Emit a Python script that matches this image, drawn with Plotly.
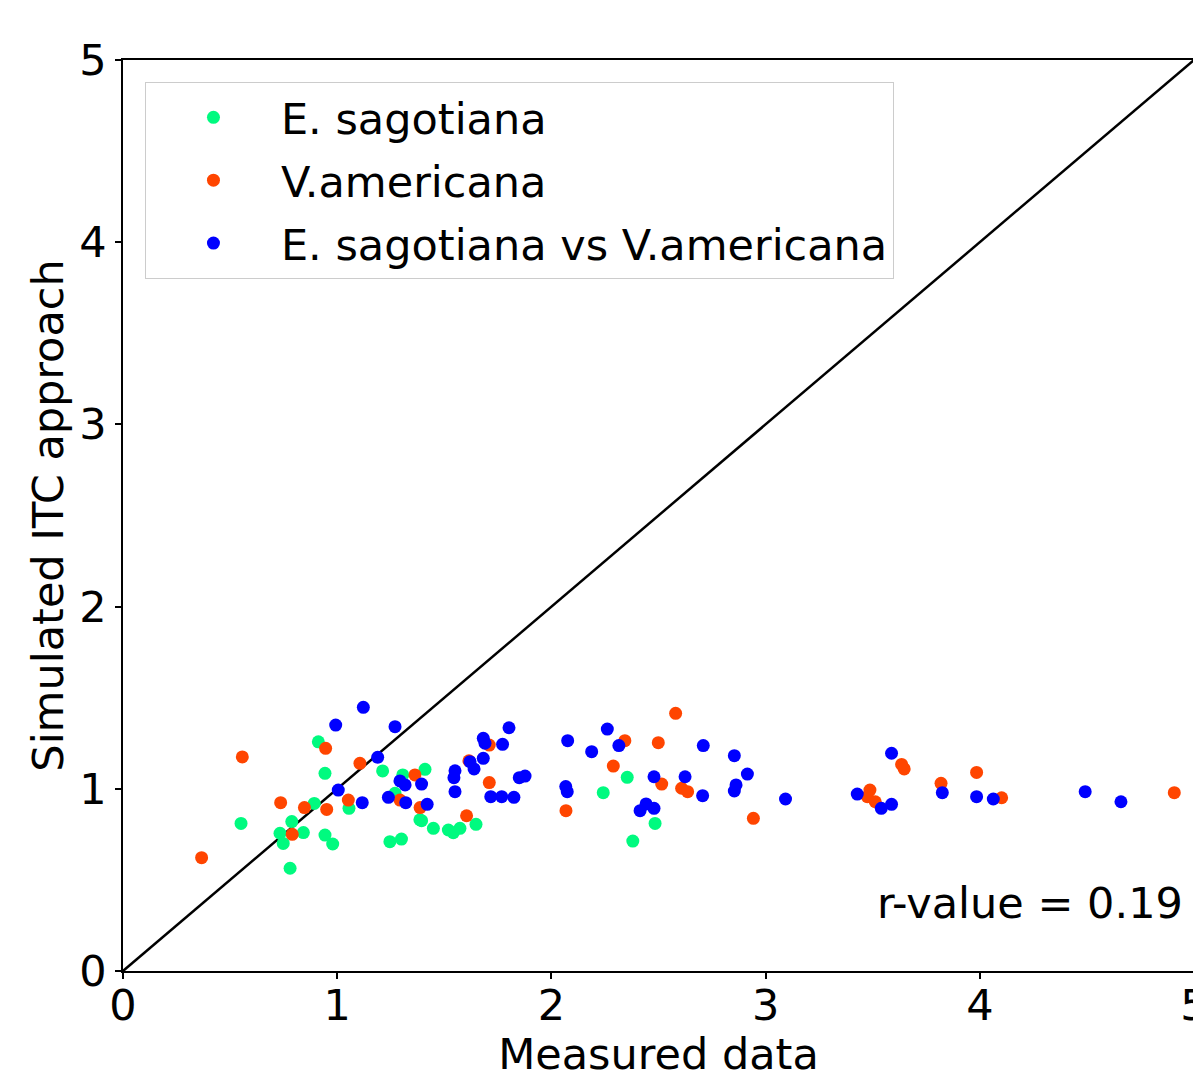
import plotly.graph_objects as go

# E. sagotiana
sag_x = [0.912, 0.943, 0.551, 0.788, 0.893, 0.733, 0.842, 0.748, 0.780, 0.943, 0.979,
         1.055, 1.212, 1.306, 1.270, 1.246, 1.300, 1.386, 1.410, 1.394, 1.449, 1.519,
         1.542, 1.573, 1.648, 2.354, 2.242, 2.380, 2.484]
sag_y = [1.258, 1.085, 0.810, 0.820, 0.920, 0.756, 0.760, 0.700, 0.564, 0.746, 0.697,
         0.893, 1.098, 1.076, 0.975, 0.710, 0.724, 0.830, 1.107, 0.825, 0.783, 0.774,
         0.759, 0.783, 0.805, 1.063, 0.979, 0.713, 0.810]

# V.americana
ame_x = [0.557, 0.367, 0.946, 1.106, 0.736, 0.847, 0.951, 1.052, 0.790, 1.363, 1.293,
         1.387, 1.615, 1.710, 1.710, 1.604, 2.068, 2.289, 2.343, 2.499, 2.580, 2.515,
         2.608, 2.636, 2.943, 3.487, 3.475, 3.512, 3.635, 3.647, 3.819, 3.985, 4.102,
         4.908]
ame_y = [1.175, 0.622, 1.222, 1.140, 0.924, 0.897, 0.887, 0.938, 0.750, 1.076, 0.938,
         0.897, 1.154, 1.240, 1.034, 0.852, 0.880, 1.125, 1.264, 1.253, 1.414, 1.026,
         1.003, 0.984, 0.838, 0.993, 0.957, 0.929, 1.134, 1.109, 1.030, 1.090, 0.951,
         0.979]

# E. sagotiana vs V.americana
vs_x = [1.122, 0.993, 1.270, 1.189, 1.005, 1.117, 1.239, 1.293, 1.317, 1.320, 1.394,
        1.420, 1.550, 1.545, 1.550, 1.620, 1.639, 1.682, 1.690, 1.682, 1.772, 1.802,
        1.717, 1.768, 1.825, 1.850, 1.877, 2.076, 2.067, 2.074, 2.188, 2.261, 2.315,
        2.479, 2.414, 2.442, 2.479, 2.624, 2.709, 2.706, 2.854, 2.915, 2.862, 2.854,
        3.093, 3.428, 3.588, 3.540, 3.588, 3.825, 3.985, 4.063, 4.492, 4.659]
vs_y = [1.447, 1.350, 1.341, 1.173, 0.993, 0.924, 0.953, 1.043, 1.021, 0.924, 1.026,
        0.915, 1.099, 1.061, 0.984, 1.149, 1.109, 1.277, 1.250, 1.167, 1.244, 1.335,
        0.957, 0.957, 0.953, 1.061, 1.070, 1.264, 1.012, 0.984, 1.204, 1.328, 1.237,
        1.066, 0.880, 0.917, 0.893, 1.066, 1.237, 0.962, 1.182, 1.081, 1.021, 0.988,
        0.944, 0.971, 1.195, 0.893, 0.915, 0.979, 0.957, 0.944, 0.984, 0.929]

one_to_one = [0, 5]
tick_vals = [0, 1, 2, 3, 4, 5]
tick_text = ["0", "1", "2", "3", "4", "5"]
r_value = 0.19

FONT = "DejaVu Sans"
FS = 43

fig = go.Figure()
fig.add_trace(go.Scatter(x=one_to_one, y=one_to_one, mode="lines",
                         line=dict(color="black", width=2.5), showlegend=False,
                         hoverinfo="skip"))
fig.add_trace(go.Scatter(x=sag_x, y=sag_y, mode="markers", name="E. sagotiana",
                         legendgroup="a", marker=dict(color="#00fa7f", size=13)))
fig.add_trace(go.Scatter(x=ame_x, y=ame_y, mode="markers", name="V.americana",
                         legendgroup="b", marker=dict(color="#ff4500", size=13)))
fig.add_trace(go.Scatter(x=vs_x, y=vs_y, mode="markers",
                         name="E. sagotiana vs V.americana", legendgroup="c",
                         marker=dict(color="#0000ff", size=13)))

axis_common = dict(range=[0, 5], tickvals=tick_vals, ticktext=tick_text,
                   showgrid=False, zeroline=False, showline=True, mirror=True,
                   linecolor="black", linewidth=1.5, ticks="outside", ticklen=6,
                   tickwidth=1.5, tickcolor="black", ticklabeloverflow="allow",
                   tickfont=dict(family=FONT, size=FS, color="black"))

fig.update_layout(
    width=1201, height=1071,
    margin=dict(l=115, r=1, t=52, b=108),
    paper_bgcolor="white", plot_bgcolor="white",
    font=dict(family=FONT, size=FS, color="black"),
    xaxis=dict(axis_common, ticklabelstandoff=-10,
               title=dict(text="Measured data", font=dict(family=FONT, size=FS),
                          standoff=0)),
    yaxis=dict(axis_common, title=dict(text="Simulated ITC approach",
                                       font=dict(family=FONT, size=FS), standoff=2)),
    legend=dict(x=0.0205, y=0.976, xanchor="left", yanchor="top",
                bgcolor="rgba(255,255,255,0.8)", bordercolor="#cccccc", borderwidth=1,
                font=dict(family=FONT, size=FS, color="black"), itemwidth=125,
                tracegroupgap=4),
    annotations=[dict(x=0.992, y=0.075, xref="paper", yref="paper", xanchor="right",
                      yanchor="middle", text=f"r-value = {r_value}", showarrow=False,
                      font=dict(family=FONT, size=FS, color="black"))],
)

fig.write_html("out.html")
